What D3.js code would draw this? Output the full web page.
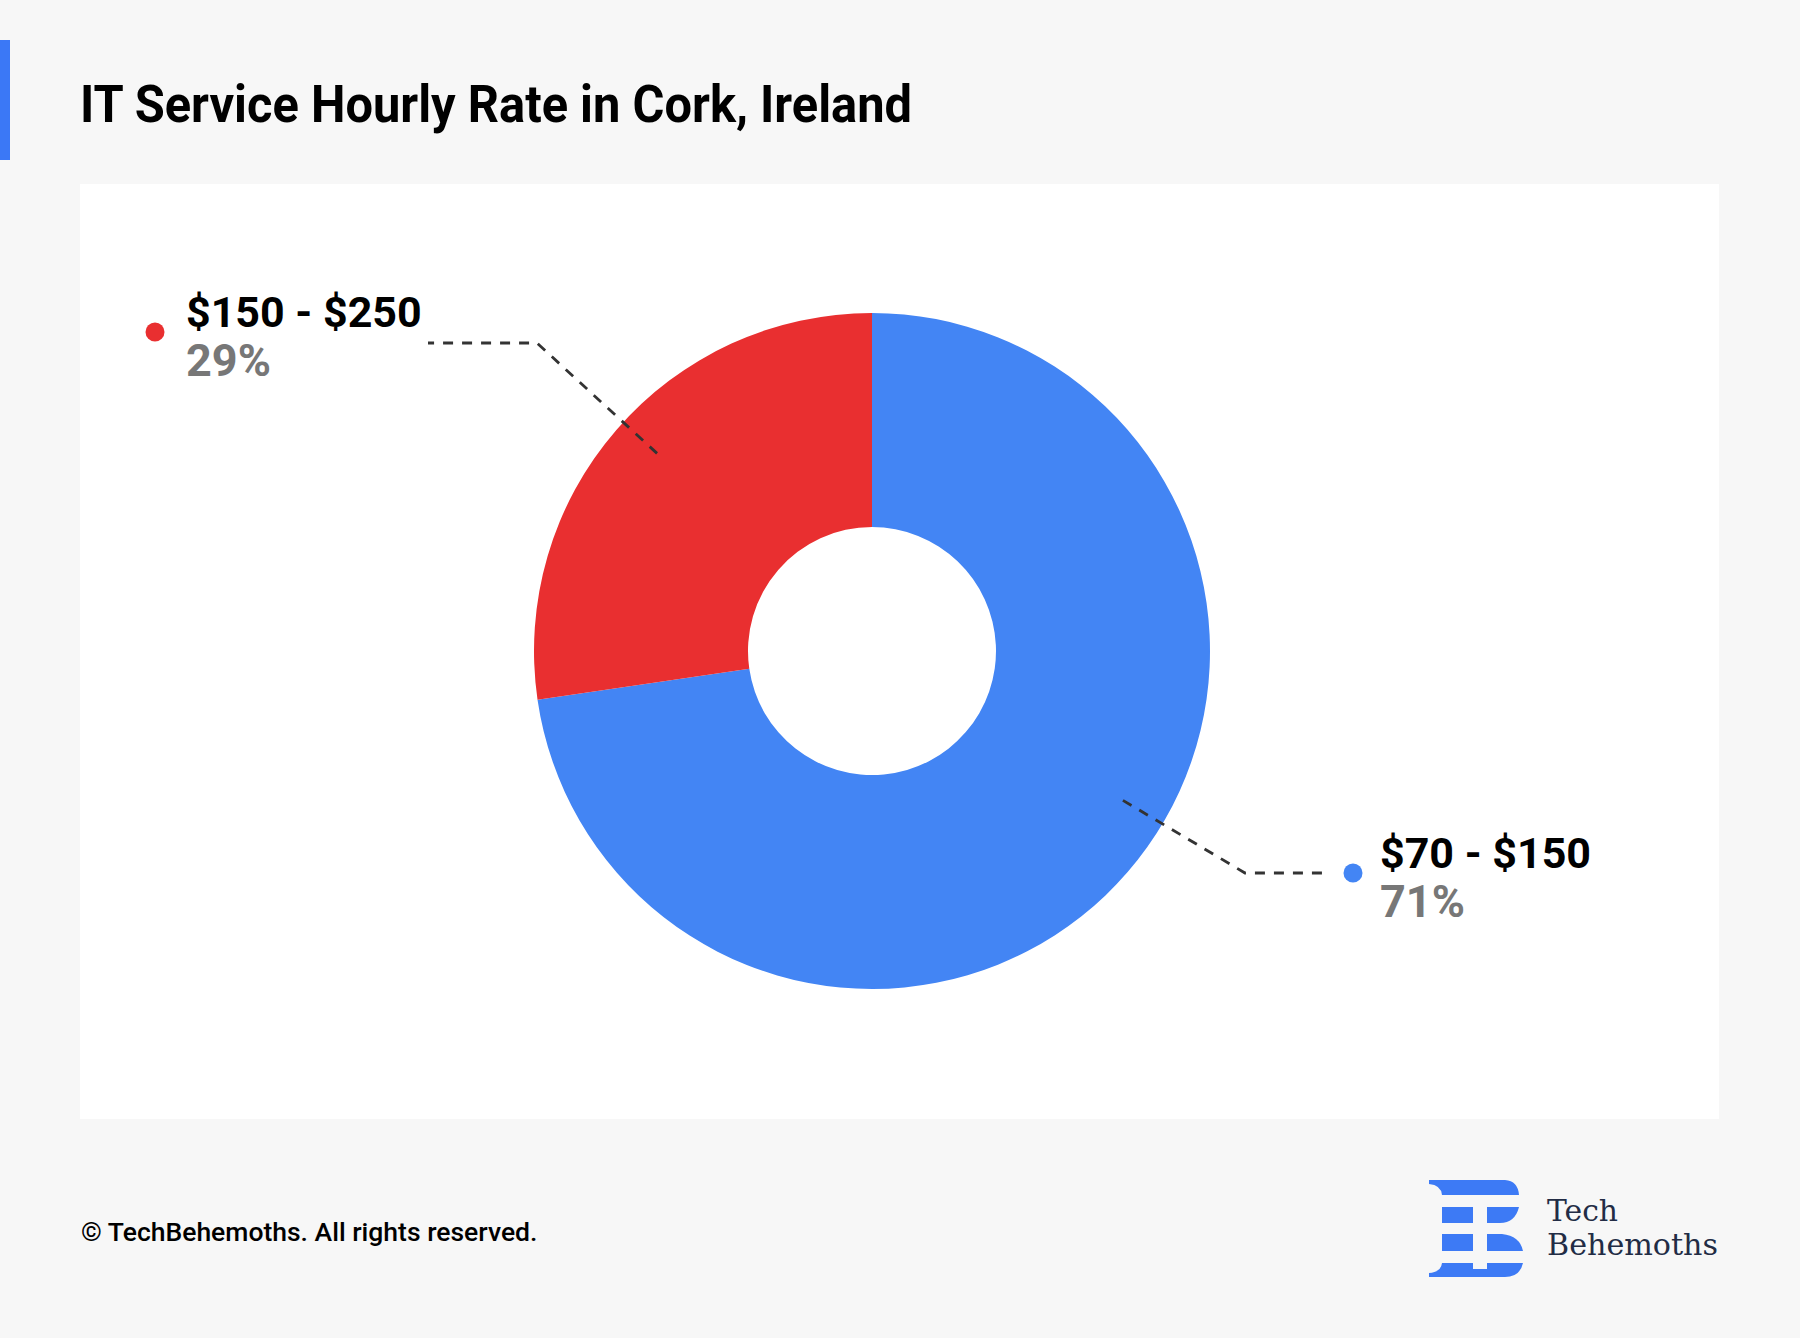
<!DOCTYPE html>
<html>
<head>
<meta charset="utf-8">
<script src="https://cdn.jsdelivr.net/npm/d3@7"></script>
<style>
  html, body { margin: 0; padding: 0; background: #f7f7f7; }
  svg { display: block; }
</style>
</head>
<body>
<svg id="chart" width="1800" height="1338"></svg>
<script>
// ---- data ----
const categories = ["$70 - $150", "$150 - $250"];
const sliceShares = [72.7, 27.3];          // share of the ring as drawn in the picture
const percentLabels = ["71%", "29%"];      // printed percentages
const sliceColors = ["#4385f4", "#e92f30"];
const titleText = "IT Service Hourly Rate in Cork, Ireland";
const footerText = "© TechBehemoths. All rights reserved.";
const brandWords = ["Tech", "Behemoths"];

const data = categories.map((c, i) => ({
  category: c, share: sliceShares[i], label: percentLabels[i], color: sliceColors[i]
}));

// ---- layout ----
const W = 1800, H = 1338;
const svg = d3.select("#chart");
svg.append("rect").attr("width", W).attr("height", H).attr("fill", "#f7f7f7");

// accent bar + title
svg.append("rect").attr("x", 0).attr("y", 40).attr("width", 10).attr("height", 120).attr("fill", "#3b78f6");
svg.append("text")
  .attr("x", 80).attr("y", 122)
  .attr("font-family", "Roboto, sans-serif").attr("font-weight", 700)
  .attr("font-size", 52).attr("fill", "#000")
  .attr("textLength", 832).attr("lengthAdjust", "spacingAndGlyphs")
  .text(titleText);

// panel
svg.append("rect").attr("x", 80).attr("y", 184).attr("width", 1639).attr("height", 935).attr("fill", "#ffffff");

// donut
const cx = 872, cy = 651, rOuter = 338, rInner = 124;
const pie = d3.pie().value(d => d.share).sort(null).startAngle(0).endAngle(2 * Math.PI);
const arcs = pie(data);
const arc = d3.arc().innerRadius(rInner).outerRadius(rOuter);
const g = svg.append("g").attr("transform", `translate(${cx},${cy})`);
g.selectAll("path.slice").data(arcs).join("path")
  .attr("class", "slice")
  .attr("d", arc)
  .attr("fill", d => d.data.color);

// labels + leader lines
const anchorR = 292;
const labelLayer = svg.append("g");
arcs.forEach((a) => {
  const mid = (a.startAngle + a.endAngle) / 2;
  const right = Math.sin(mid) > 0;
  // label rows, placed above / below the ring
  const dotY = right ? cy + 222 : cy - 319;
  const dotX = right ? cx + 481 : cx - 717;
  const textX = right ? dotX + 27 : dotX + 31;
  const elbow = right ? [dotX - 108, dotY] : [cx - 335, dotY + 11];
  const end = right ? [dotX - 27, dotY] : [cx - 444, dotY + 11];
  // leader starts inside the slice, on the ray from the centre to the elbow
  const ex = elbow[0] - cx, ey = elbow[1] - cy, el = Math.hypot(ex, ey);
  const start = [cx + ex / el * anchorR, cy + ey / el * anchorR];

  labelLayer.append("path")
    .attr("d", d3.line()([start, elbow, end]))
    .attr("fill", "none").attr("stroke", "#333")
    .attr("stroke-width", 2.8).attr("stroke-dasharray", "10,9");

  labelLayer.append("circle").attr("cx", dotX).attr("cy", dotY).attr("r", 9.5).attr("fill", a.data.color);
  labelLayer.append("text")
    .attr("x", textX).attr("y", dotY - 5)
    .attr("font-family", "Roboto, sans-serif").attr("font-weight", 700)
    .attr("font-size", 43).attr("fill", "#000")
    .text(a.data.category);
  labelLayer.append("text")
    .attr("x", textX).attr("y", dotY + 44)
    .attr("font-family", "Roboto, sans-serif").attr("font-weight", 700)
    .attr("font-size", 45).attr("fill", "#777")
    .text(a.data.label);
});

// footer
svg.append("text")
  .attr("x", 81).attr("y", 1241)
  .attr("font-family", "Roboto, sans-serif").attr("font-weight", 500)
  .attr("font-size", 26.5).attr("fill", "#000")
  .text(footerText);

// logo
const logo = svg.append("g").attr("fill", "#3d7af5");
const logoPaths = [
  "M1429,1180 L1505,1180 Q1518,1181 1519,1195 L1442,1195 Q1441,1185 1429,1184 Z",
  "M1442,1207 L1473,1207 L1473,1223 L1442,1223 Z",
  "M1487,1207 L1519,1207 Q1515,1223 1500,1223 L1487,1223 Z",
  "M1442,1234 L1473,1234 L1473,1251 L1442,1251 Z",
  "M1487,1234 L1502,1234 Q1520,1236 1523,1251 L1487,1251 Z",
  "M1442,1263 L1473,1263 L1473,1269 L1487,1269 L1487,1263 L1523,1263 Q1520,1277 1505,1277 L1429,1277 L1429,1273 Q1441,1272 1442,1263 Z"
];
logo.selectAll("path").data(logoPaths).join("path").attr("d", d => d);

svg.append("text")
  .attr("x", 1547).attr("y", 1221)
  .attr("font-family", "'DejaVu Serif', serif").attr("font-size", 30).attr("fill", "#222c45")
  .attr("textLength", 71).attr("lengthAdjust", "spacingAndGlyphs")
  .text(brandWords[0]);
svg.append("text")
  .attr("x", 1547).attr("y", 1255)
  .attr("font-family", "'DejaVu Serif', serif").attr("font-size", 30).attr("fill", "#222c45")
  .attr("textLength", 171).attr("lengthAdjust", "spacingAndGlyphs")
  .text(brandWords[1]);
</script>
</body>
</html>
